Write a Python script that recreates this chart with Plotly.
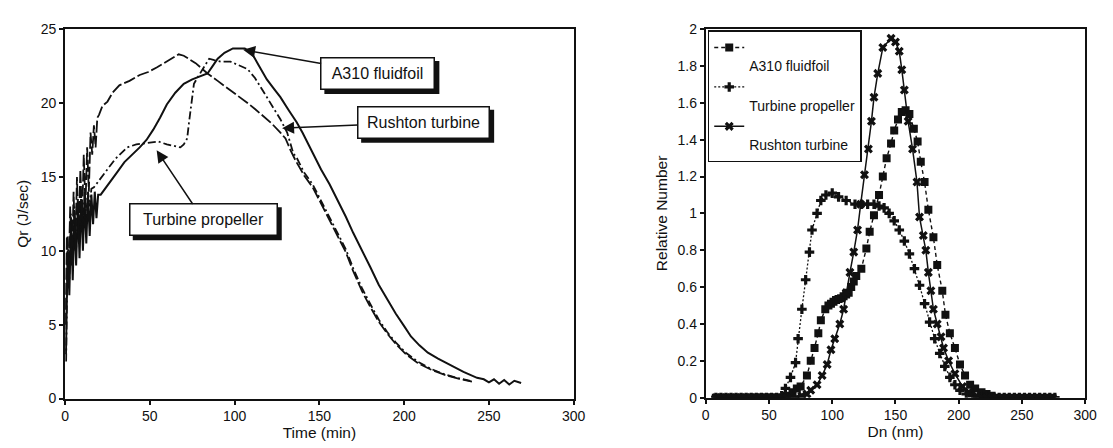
import plotly.graph_objects as go

# ---------------- Left panel: heat release rate vs time ----------------
a310_t = [0.5, 1.5, 2.5, 3.5, 4.5, 5.5, 6.5, 7.5, 8.5, 9.5, 10.5, 11.5, 12.5, 13.5, 14.5,
          15.5, 16.5, 17.5, 18.5, 19.5, 21, 25, 30, 35, 40.7, 44, 48, 52, 56, 60, 65, 70,
          75, 81.4, 84, 87, 90, 94, 99, 106, 110, 114, 119, 123, 127, 132, 136.6, 140, 143,
          146, 151, 156, 161, 165.6, 170, 175, 180, 185, 190, 195, 200, 204, 209, 214, 220,
          227, 235, 243, 247, 250, 253, 256, 259, 262, 265, 269]
a310_q = [3.0, 10.0, 7.0, 12.0, 8.0, 12.5, 9.0, 13.0, 9.5, 13.5, 10.0, 13.5, 10.5, 13.8, 11.0,
          13.8, 11.8, 14.0, 12.2, 13.8, 13.8, 14.4, 15.2, 16.0, 16.6, 17.0, 17.5, 18.2, 19.0,
          19.9, 20.7, 21.3, 21.6, 21.9, 22.0, 22.5, 23.0, 23.4, 23.7, 23.7, 23.4, 22.6, 21.6,
          21.0, 20.4, 19.5, 18.7, 18.0, 17.3, 16.6, 15.5, 14.5, 13.4, 12.3, 11.2, 10.1, 8.9,
          7.7, 6.7, 5.75, 4.9, 4.2, 3.6, 3.1, 2.7, 2.3, 1.8, 1.4, 1.3, 1.1, 1.3, 1.0, 1.25,
          0.95, 1.2, 1.05]

prop_t = [0.6, 1.5, 2.5, 3.5, 4.5, 5.5, 6.5, 7.5, 8.5, 9.5, 10.5, 11.5, 12.5, 13.5, 14.5,
          15.5, 17, 19, 21, 25, 29.5, 33, 36.6, 42, 50, 55, 60, 64, 68, 70, 72, 73, 74.5, 76,
          78, 81, 85, 88, 92, 97.6, 102, 107.6, 112, 115, 119, 122.7, 127, 131, 134.6, 136.6,
          141, 146, 151, 156, 161, 165.6, 170, 175, 180, 185, 190, 195, 201, 208, 216, 224,
          232, 239]
prop_q = [2.5, 11.0, 8.0, 12.5, 9.0, 13.0, 10.0, 13.5, 11.0, 13.5, 11.5, 14.0, 12.0, 14.0,
          13.0, 14.2, 14.3, 14.6, 14.9, 15.5, 16.2, 16.6, 17.0, 17.2, 17.3, 17.4, 17.2, 17.1,
          17.0, 17.2, 17.6, 18.6, 20.0, 21.3, 21.7, 22.3, 23.0, 22.9, 22.8, 22.8, 22.6, 22.3,
          21.7, 21.1, 20.4, 19.7, 18.9, 18.0, 16.6, 16.3, 15.3, 14.5, 13.4, 12.3, 11.2, 10.1,
          8.8, 7.5, 6.4, 5.35, 4.5, 3.8, 3.1, 2.5, 2.0, 1.63, 1.38, 1.2]

rush_t = [0.3, 1, 2, 3, 4, 5, 6, 7, 8, 9, 10, 11, 12, 13, 14, 15, 16, 17, 18, 19, 20, 22, 25,
          28, 32, 38, 44, 49, 54, 60, 64, 67, 70, 74, 77, 80, 84, 90, 96, 102, 107.6, 112, 117,
          122, 127, 130, 133, 136, 141, 146, 151, 156, 161, 165.6, 170, 175, 180, 185, 190,
          195, 201, 208, 216, 224, 232, 240]
rush_q = [5.0, 11.0, 8.0, 13.0, 9.0, 14.0, 10.0, 15.0, 11.0, 15.5, 12.0, 16.5, 13.0, 17.0,
          14.0, 18.0, 16.5, 18.5, 17.0, 19.0, 19.2, 19.8, 20.1, 20.7, 21.2, 21.5, 21.9, 22.1,
          22.4, 22.8, 23.1, 23.3, 23.2, 22.9, 22.7, 22.4, 22.0, 21.5, 21.0, 20.5, 20.0, 19.6,
          19.1, 18.6, 18.0, 17.6, 16.8, 16.1, 15.1, 14.3, 13.2, 12.1, 11.0, 9.9, 8.6, 7.3, 6.2,
          5.2, 4.4, 3.7, 3.0, 2.4, 1.95, 1.6, 1.35, 1.15]

# ---------------- Right panel: particle size distributions ----------------
a310_dn = [8, 12, 16, 20, 24, 28, 32, 36, 40, 44, 48, 52, 56, 60, 64, 68.6, 72, 75, 80, 83,
           86, 89, 91, 94.5, 97, 99, 101, 103, 105, 107, 109, 111, 113, 115, 117, 119, 123,
           127, 129.6, 133, 137, 140, 143, 146.5, 149, 152, 155, 158, 161, 164.5, 167.5, 170,
           173, 176, 180, 183, 187, 189.5, 193, 197, 201, 205, 209, 213, 218, 222, 226, 230,
           234, 238, 242, 246, 250, 254, 258, 262, 266, 270, 274]
a310_rel = [0, 0, 0, 0, 0, 0, 0, 0, 0, 0, 0, 0, 0, 0, 0.01, 0.03, 0.05, 0.06, 0.12, 0.2,
            0.27, 0.35, 0.42, 0.48, 0.5, 0.51, 0.52, 0.53, 0.535, 0.54, 0.55, 0.56, 0.57,
            0.6, 0.63, 0.66, 0.7, 0.81, 0.9, 0.99, 1.1, 1.2, 1.3, 1.38, 1.45, 1.51, 1.55, 1.56,
            1.54, 1.46, 1.39, 1.28, 1.17, 1.02, 0.87, 0.72, 0.58, 0.45, 0.35, 0.27, 0.18, 0.12,
            0.07, 0.05, 0.03, 0.02, 0.01, 0, 0, 0, 0, 0, 0, 0, 0, 0, 0, 0, 0]

prop_dn = [8, 12, 16, 20, 24, 28, 32, 36, 40, 44, 48, 52, 56, 60, 63, 67, 71, 73, 76, 79, 82,
           84, 88, 91, 95, 100, 105, 111, 118, 123, 128, 133, 137, 141, 145, 149, 153, 157,
           161, 165, 169, 173, 177, 181, 185, 189, 193, 197, 201, 206, 211, 216, 220, 224,
           228, 232, 236, 240, 244, 248, 252, 256, 260, 264, 268, 272, 276]
prop_rel = [0, 0, 0, 0, 0, 0, 0, 0, 0, 0, 0, 0, 0, 0.01, 0.05, 0.11, 0.19, 0.32, 0.48, 0.64,
            0.79, 0.91, 1.0, 1.07, 1.1, 1.11, 1.09, 1.07, 1.05, 1.05, 1.05, 1.05, 1.04, 1.03,
            1.0, 0.96, 0.91, 0.85, 0.78, 0.7, 0.61, 0.51, 0.41, 0.32, 0.24, 0.17, 0.11, 0.07,
            0.04, 0.02, 0.01, 0.005, 0, 0, 0, 0, 0, 0, 0, 0, 0, 0, 0, 0, 0, 0, 0]

rush_dn = [8, 12, 16, 20, 24, 28, 32, 36, 40, 44, 48, 52, 56, 60, 64, 68, 72, 76, 80, 83, 88,
           92, 96, 99, 102, 106, 109, 111, 114, 117, 120, 122.5, 125.5, 128.6, 131, 133, 136,
           140, 146.5, 150, 153, 155, 157, 160, 163.5, 167, 169, 172, 174, 176, 178, 180, 183,
           186, 188, 192, 197, 203, 208, 214, 218, 222, 226, 230, 234, 238, 242, 246, 250,
           254, 258, 262, 266, 270, 274]
rush_rel = [0, 0, 0, 0, 0, 0, 0, 0, 0, 0, 0, 0, 0, 0, 0, 0, 0, 0.01, 0.02, 0.04, 0.07, 0.12,
            0.18, 0.26, 0.32, 0.4, 0.48, 0.57, 0.68, 0.79, 0.91, 1.05, 1.21, 1.35, 1.5, 1.63,
            1.76, 1.9, 1.95, 1.93, 1.88, 1.78, 1.67, 1.5, 1.35, 1.17, 0.98, 0.88, 0.8, 0.68,
            0.58, 0.48, 0.4, 0.33, 0.27, 0.2, 0.13, 0.06, 0.03, 0.01, 0, 0, 0, 0, 0, 0, 0, 0,
            0, 0, 0, 0, 0, 0, 0]

left_ticks = [0, 5, 10, 15, 20, 25]
right_ticks = [0, 0.2, 0.4, 0.6, 0.8, 1, 1.2, 1.4, 1.6, 1.8, 2]
right_ticktext = ["0", "0.2", "0.4", "0.6", "0.8", "1", "1.2", "1.4", "1.6", "1.8", "2"]
x_ticks = [0, 50, 100, 150, 200, 250, 300]

FONT = "Liberation Sans, Arial, sans-serif"
INK = "#111111"
TICK_FONT = dict(family=FONT, size=14, color=INK)
TITLE_FONT = dict(family=FONT, size=15.5, color=INK)

fig = go.Figure()

# left panel curves
fig.add_trace(go.Scatter(x=a310_t, y=a310_q, mode="lines", name="A310 fluidfoil",
                         line=dict(color=INK, width=2), showlegend=False,
                         xaxis="x", yaxis="y"))
fig.add_trace(go.Scatter(x=prop_t, y=prop_q, mode="lines", name="Turbine propeller",
                         line=dict(color=INK, width=1.8, dash="8px,3px,2px,3px"),
                         showlegend=False, xaxis="x", yaxis="y"))
fig.add_trace(go.Scatter(x=rush_t, y=rush_q, mode="lines", name="Rushton turbine",
                         line=dict(color=INK, width=1.8, dash="12px,3px"),
                         showlegend=False, xaxis="x", yaxis="y"))

# right panel curves
fig.add_trace(go.Scatter(x=a310_dn, y=a310_rel, mode="lines+markers",
                         name=" <br>A310 fluidfoil",
                         line=dict(color=INK, width=1.4, dash="4px,3px"),
                         marker=dict(symbol="square", size=8, color=INK),
                         xaxis="x2", yaxis="y2"))
fig.add_trace(go.Scatter(x=prop_dn, y=prop_rel, mode="lines+markers",
                         name=" <br>Turbine propeller",
                         line=dict(color=INK, width=1.3, dash="2px,2px"),
                         marker=dict(symbol="cross", size=8, color=INK),
                         xaxis="x2", yaxis="y2"))
fig.add_trace(go.Scatter(x=rush_dn, y=rush_rel, mode="lines+markers",
                         name=" <br>Rushton turbine",
                         line=dict(color=INK, width=1.5),
                         marker=dict(symbol="x", size=8, color=INK),
                         xaxis="x2", yaxis="y2"))

axis_common = dict(showline=True, linecolor=INK, linewidth=2, mirror=True,
                   ticks="outside", ticklen=4, tickwidth=1.5, tickcolor=INK,
                   showgrid=False, zeroline=False, tickfont=TICK_FONT)

# callout boxes (text-area width in px) with a drop shadow on the left panel
BOX_H = 18
PAD = 6
BORDER = 1.5
SHADOW = 4
callouts = [
    dict(text="A310 fluidfoil", tip=(105, 23.6), box=(184.5, 22.0), w=100),
    dict(text="Rushton turbine", tip=(128, 18.3), box=(211.5, 18.7), w=118),
    dict(text="Turbine propeller", tip=(54, 16.8), box=(81.5, 12.1), w=134),
]
annotations = []
shapes = []
for c in callouts:
    half_w = c["w"] / 2 + PAD + BORDER
    half_h = BOX_H / 2 + PAD + BORDER
    shapes.append(dict(
        type="rect", xref="x", yref="y", layer="above",
        xsizemode="pixel", ysizemode="pixel",
        xanchor=c["box"][0], yanchor=c["box"][1],
        x0=-half_w + SHADOW, x1=half_w + SHADOW,
        y0=-half_h - SHADOW, y1=half_h - SHADOW,
        fillcolor=INK, line=dict(width=0)))
    annotations.append(dict(
        x=c["tip"][0], y=c["tip"][1], xref="x", yref="y",
        ax=c["box"][0], ay=c["box"][1], axref="x", ayref="y",
        text=c["text"], width=c["w"], height=BOX_H,
        showarrow=True, arrowhead=2, arrowsize=1.6,
        arrowwidth=1.5, arrowcolor=INK, bgcolor="white", bordercolor=INK,
        borderwidth=BORDER, borderpad=PAD, font=dict(family=FONT, size=16, color=INK)))

fig.update_layout(
    width=1113, height=448,
    margin=dict(l=0, r=0, t=0, b=0),
    paper_bgcolor="white", plot_bgcolor="white",
    font=dict(family=FONT, size=14, color=INK),
    xaxis=dict(domain=[0.0557, 0.5193], range=[0, 300], tickvals=x_ticks,
               title=dict(text="Time (min)", standoff=3, font=TITLE_FONT),
               anchor="y", **axis_common),
    yaxis=dict(domain=[0.096, 0.951], range=[0, 25], tickvals=left_ticks,
               title=dict(text="Qr (J/sec)", standoff=8, font=TITLE_FONT),
               anchor="x", **axis_common),
    xaxis2=dict(domain=[0.6397, 0.9856], range=[0, 300], tickvals=x_ticks,
                title=dict(text="Dn (nm)", standoff=3, font=TITLE_FONT),
                anchor="y2", **axis_common),
    yaxis2=dict(domain=[0.098, 0.951], range=[0, 2], tickvals=right_ticks,
                ticktext=right_ticktext,
                title=dict(text="Relative Number", standoff=6, font=TITLE_FONT),
                anchor="x2", **axis_common),
    legend=dict(x=0.6415, y=0.948, xanchor="left", yanchor="top",
                bgcolor="white", bordercolor=INK, borderwidth=1.5,
                font=dict(family=FONT, size=14, color=INK),
                valign="top", itemwidth=30, tracegroupgap=0),
    annotations=annotations,
    shapes=shapes,
)

fig.write_html("out.html")
